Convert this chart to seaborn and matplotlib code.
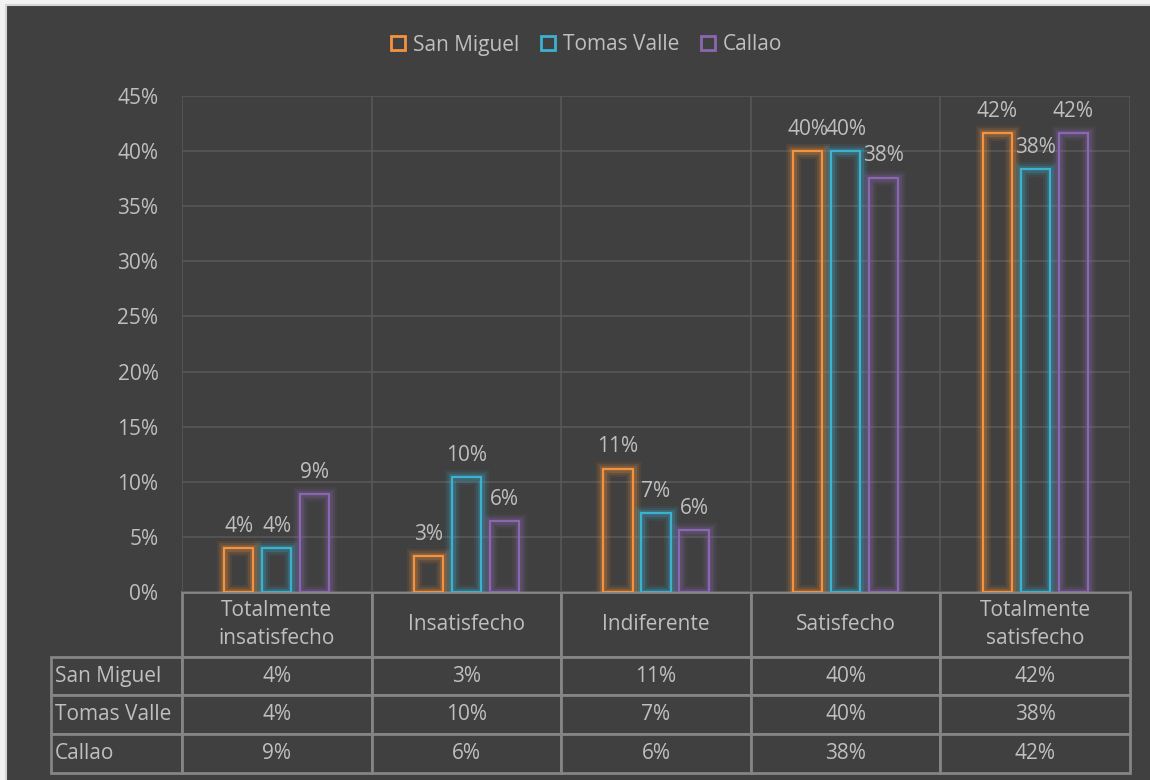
import matplotlib
matplotlib.use("Agg")
import matplotlib.pyplot as plt
import matplotlib.patheffects as pe
from matplotlib.lines import Line2D
from matplotlib.patches import Rectangle
from matplotlib.ticker import MultipleLocator, PercentFormatter, FixedLocator
import seaborn as sns
import pandas as pd

# --- data -------------------------------------------------------------
categories = ["Totalmente\ninsatisfecho", "Insatisfecho", "Indiferente",
              "Satisfecho", "Totalmente\nsatisfecho"]
series = ["San Miguel", "Tomas Valle", "Callao"]
san_miguel = [0.040, 0.033, 0.112, 0.400, 0.416]
tomas_valle = [0.040, 0.104, 0.072, 0.400, 0.384]
callao = [0.089, 0.064, 0.056, 0.376, 0.416]
colors = ["#F5923E", "#3DB2D0", "#8B67B1"]

values = [san_miguel, tomas_valle, callao]
df = pd.DataFrame({
    "categoria": [c for _ in series for c in categories],
    "sede": [s for s in series for _ in categories],
    "valor": [v for vals in values for v in vals],
})

BG = "#404040"
TXT = "#BFBFBF"
GRID = "#585858"
TBL = "#858585"
FONT = 15

sns.set_theme(style="dark")
plt.rcParams["font.family"] = ["Open Sans", "DejaVu Sans"]

W, H = 1150, 780
fig = plt.figure(figsize=(W / 100, H / 100), dpi=100, facecolor="#F2F2F2")
# chart-area frame behind everything
fig.patches.append(Rectangle((5.5 / W, -0.01), 1.02, 1 - 5.5 / H + 0.01,
                             transform=fig.transFigure, facecolor=BG,
                             edgecolor="#D6D6D6", linewidth=1.5, zorder=-10))

ax = fig.add_axes([182 / W, 1 - 592 / H, 948 / W, 496 / H])
ax.set_facecolor(BG)

sns.barplot(data=df, x="categoria", y="valor", hue="sede", order=categories,
            hue_order=series, palette=colors, fill=False, linewidth=1.6,
            width=0.6, gap=0.23, errorbar=None, legend=False, ax=ax)

# soft glow around each bar outline
for container, col in zip(ax.containers, colors):
    for bar in container:
        bar.set_path_effects([
            pe.Stroke(linewidth=11, foreground=col, alpha=0.08),
            pe.Stroke(linewidth=8, foreground=col, alpha=0.12),
            pe.Stroke(linewidth=5, foreground=col, alpha=0.20),
            pe.Normal(),
        ])

# value labels above bars
for container, vals in zip(ax.containers, values):
    ax.bar_label(container, labels=[f"{v:.0%}" for v in vals], padding=8,
                 color=TXT, fontsize=FONT)

ax.set_ylim(0, 0.45)
ax.set_xlim(-0.5, len(categories) - 0.5)
ax.yaxis.set_major_locator(MultipleLocator(0.05))
ax.yaxis.set_major_formatter(PercentFormatter(1.0, decimals=0))
ax.tick_params(axis="y", length=0, pad=17, labelsize=FONT, labelcolor=TXT)
ax.xaxis.set_major_locator(FixedLocator([i - 0.5 for i in range(len(categories) + 1)]))
ax.tick_params(axis="x", length=0, labelbottom=False)
ax.grid(True, axis="both", color=GRID, linewidth=1.2)
ax.set_axisbelow(True)
for s in ax.spines.values():
    s.set_visible(False)
ax.set_xlabel("")
ax.set_ylabel("")

# data table under the plot: header row + one row per series
label_w = 131 / 948
rows = [[""] + categories] + [[name] + [f"{v:.0%}" for v in vals]
                              for name, vals in zip(series, values)]
tbl = ax.table(cellText=rows,
               colWidths=[label_w] + [1 / len(categories)] * len(categories),
               cellLoc="center",
               bbox=[-label_w, -181 / 496, 1 + label_w, 181 / 496])
tbl.auto_set_font_size(False)
tbl.set_fontsize(FONT)
for (r, c), cell in tbl.get_celld().items():
    cell.set_facecolor(BG)
    cell.set_edgecolor(TBL)
    cell.set_linewidth(2)
    cell.get_text().set_color(TXT)
    cell.get_text().set_linespacing(1.45)
    cell.set_height((65 if r == 0 else 39) / 496)
    if c == 0:
        cell.PAD = 0.03
        cell.get_text().set_horizontalalignment("left")
        cell._loc = "left"
    if r == 0 and c == 0:
        cell.visible_edges = ""
        cell.set_facecolor("none")

# legend
handles = [Line2D([], [], linestyle="none", marker="s", markersize=10,
                  markerfacecolor="none", markeredgecolor=col,
                  markeredgewidth=2) for col in colors]
fig.legend(handles, series, loc="center", bbox_to_anchor=(586 / W, 1 - 45 / H),
           ncol=3, frameon=False, fontsize=FONT, labelcolor=TXT,
           handletextpad=0.3, columnspacing=1.0, handlelength=0.8)

fig.savefig("out.png", dpi=100, facecolor=fig.get_facecolor())
